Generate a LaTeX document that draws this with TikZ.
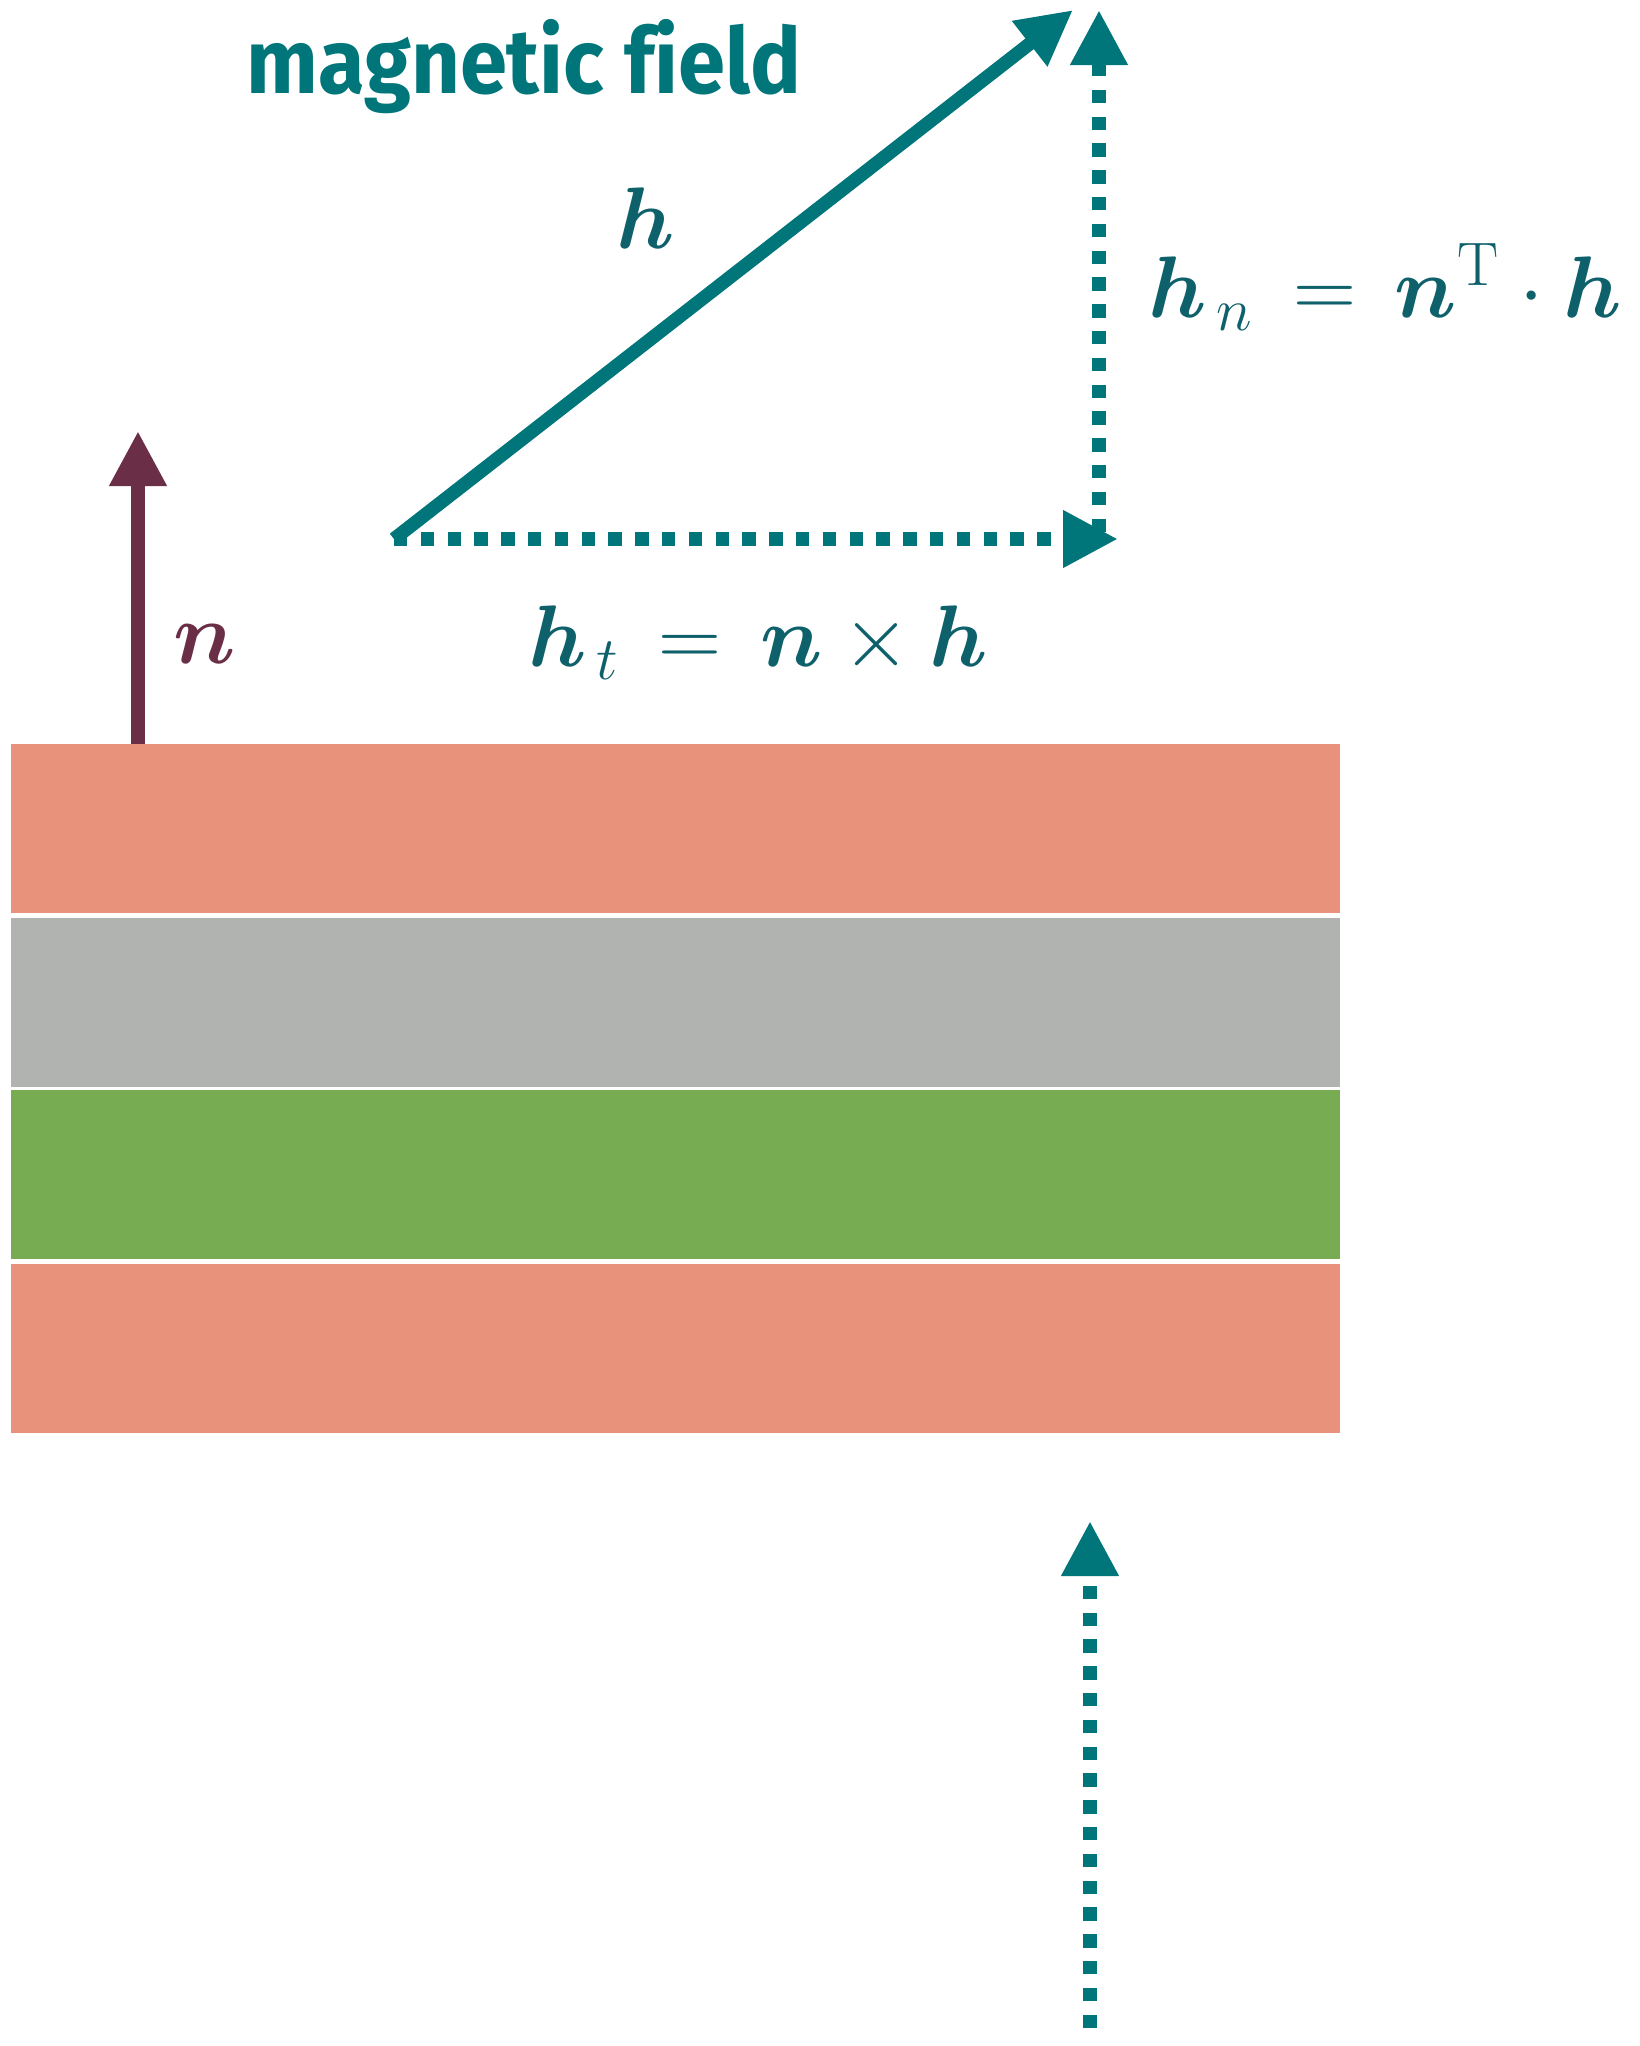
\documentclass[tikz,border=0pt]{standalone}
\usepackage{fontspec}
\newfontfamily\titlefont[Ligatures=NoCommon, FakeStretch=0.93]{Fira Sans}
\usepackage{amsmath}
\usepackage{bm}
\usetikzlibrary{positioning, arrows.meta}
\definecolor{fieldteal}{HTML}{00767A}
\definecolor{mathteal}{HTML}{0E616B}
\definecolor{normalred}{HTML}{6A2E47}
\definecolor{layerpink}{HTML}{E8927C}
\definecolor{layergray}{HTML}{B1B3B1}
\definecolor{layergreen}{HTML}{77AC52}

\begin{document}
\begin{tikzpicture}[font=\fontsize{25}{30}\selectfont,
    vec/.style={line width=0.135cm, -{Triangle[length=0.55cm, width=0.54cm]}},
    dotvec/.style={vec, fieldteal, dash pattern=on 0.134cm off 0.134cm},
    mathlabel/.style={text=mathteal, inner sep=0pt, anchor=base}]
    \useasboundingbox (0,0) rectangle (16.39,-20.46);
    % layers of the stack
    \fill[layerpink]  (0.11,-7.44)  rectangle (13.40,-9.13);
    \fill[layergray]  (0.11,-9.18)  rectangle (13.40,-10.87);
    \fill[layergreen] (0.11,-10.90) rectangle (13.40,-12.59);
    \fill[layerpink]  (0.11,-12.64) rectangle (13.40,-14.33);
    % end points of the vectors
    \coordinate (origin) at (3.94,-5.39);
    \coordinate (htip) at (10.73,-0.10);
    \coordinate (ttip) at (11.18,-5.39);
    \coordinate (nbase) at (10.99,-5.32);
    \coordinate (ntip) at (10.99,-0.10);
    \coordinate (surf) at (1.38,-7.44);
    \coordinate (normtip) at (1.38,-4.31);
    \coordinate (inbase) at (10.90,-20.28);
    \coordinate (intip) at (10.90,-15.21);
    % field and its parts
    \draw[vec, fieldteal] (origin) -- (htip);
    \draw[dotvec] (origin) -- (ttip);
    \draw[dotvec] (nbase) -- (ntip);
    \draw[dotvec] (inbase) -- (intip);
    % surface normal
    \draw[vec, normalred] (surf) -- (normtip);
    % labels
    \node[font=\titlefont\bfseries\fontsize{26}{31}\selectfont, text=fieldteal, anchor=base,
      inner sep=0pt] (title) at (5.24,-0.93) {magnetic f\kern0pt ield};
    \node[mathlabel] (hlabel) at (6.46,-2.48) {$\bm{h}$};
    \node[mathlabel] (htlabel) at (7.58,-6.66) {$\bm{h}_{\,t} \,=\, \bm{n} \times \bm{h}$};
    \node[mathlabel] (hnlabel) at (13.85,-3.17) {$\bm{h}_{\,n} \,=\, \bm{n}^{\mathrm{T}} \cdot \bm{h}$};
    \node[mathlabel, text=normalred] (nlabel) at (2.05,-6.63) {$\bm{n}$};
  \end{tikzpicture}
\end{document}
